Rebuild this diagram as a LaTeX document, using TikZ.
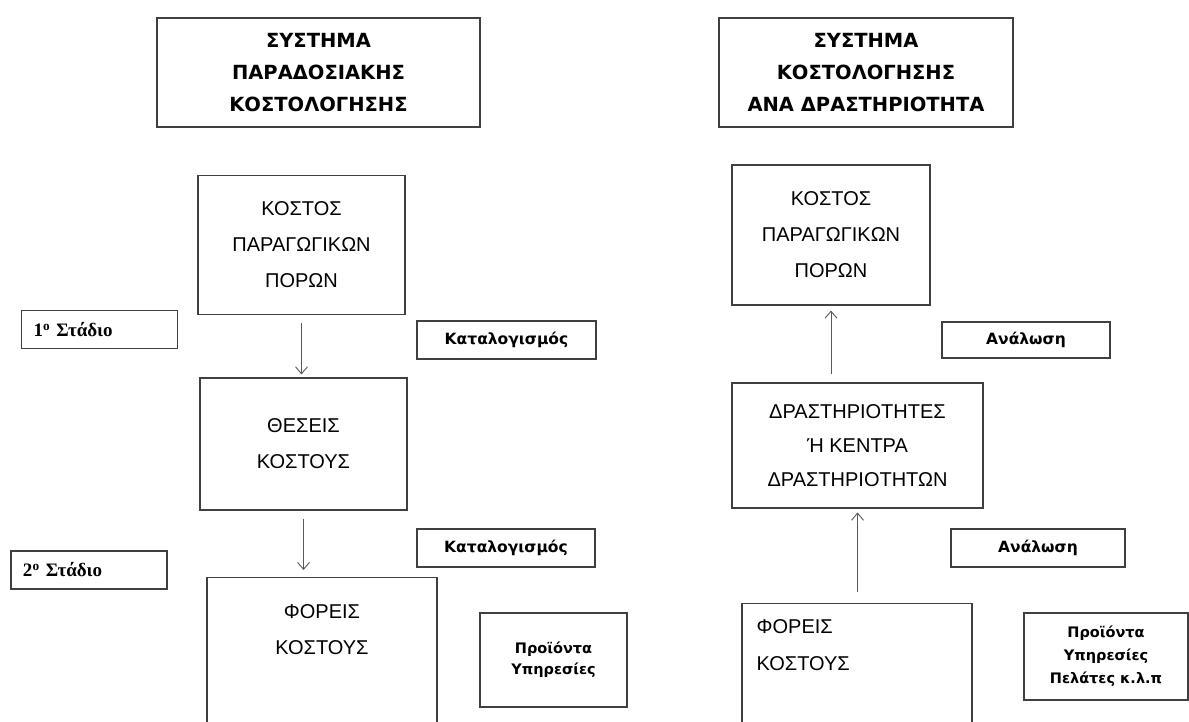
\documentclass[tikz,border=0pt]{standalone}
\usepackage{fontspec}
\setmainfont{Liberation Sans}
\newfontfamily\stadiofont{Liberation Serif}
\newfontfamily\heavyfont{DejaVu Sans}
\usepackage{tikz}
\usetikzlibrary{arrows.meta}

\begin{document}
\begin{tikzpicture}[x=1pt, y=-1pt,
    box/.style={draw=black!75, line width=1.1pt, rectangle, inner sep=0pt},
    headbox/.style={box, font=\fontsize{19.5}{32}\heavyfont\bfseries, align=center},
    mainbox/.style={box, font=\fontsize{20}{36}\selectfont, align=center},
    tagbox/.style={box, font=\fontsize{15.5}{21}\heavyfont\bfseries, align=center},
    stagebox/.style={box, font=\fontsize{19}{20}\stadiofont\bfseries, align=left,
        inner xsep=12pt, text width=132pt, minimum height=38pt},
    flow/.style={-{Straight Barb[length=7pt,width=12pt]}, draw=black!65, line width=0.9pt}]
    \useasboundingbox (0,0) rectangle (1189,722);
    \clip (0,0) rectangle (1189,722);

    % Headers
    \node[headbox, minimum width=323pt, minimum height=109pt] (headL) at (318.5,72.5) {ΣΥΣΤΗΜΑ\\ΠΑΡΑΔΟΣΙΑΚΗΣ\\ΚΟΣΤΟΛΟΓΗΣΗΣ};
    \node[headbox, minimum width=294pt, minimum height=109pt] (headR) at (866,72.5) {ΣΥΣΤΗΜΑ\\ΚΟΣΤΟΛΟΓΗΣΗΣ\\ΑΝΑ ΔΡΑΣΤΗΡΙΟΤΗΤΑ};

    % Traditional costing
    \node[mainbox, minimum width=207pt, minimum height=139pt] (poroiL) at (301.5,245) {ΚΟΣΤΟΣ\\ΠΑΡΑΓΩΓΙΚΩΝ\\ΠΟΡΩΝ};
    \node[mainbox, minimum width=207pt, minimum height=132pt] (theseis) at (303.5,444) {ΘΕΣΕΙΣ\\ΚΟΣΤΟΥΣ};
    \node[box, minimum width=230pt, minimum height=180pt, anchor=north,
        label={[font=\fontsize{20}{36}\selectfont, align=center, anchor=north, inner sep=0pt, yshift=-27pt]north:{ΦΟΡΕΙΣ\\ΚΟΣΤΟΥΣ}}] (foreisL) at (322,577) {};

    \node[stagebox] (stadio1) at (99.5,329.5) {1\textsuperscript{ο} Στάδιο};
    \node[stagebox] (stadio2) at (89,570) {2\textsuperscript{ο} Στάδιο};
    \node[tagbox, minimum width=179pt, minimum height=38pt] (katal1) at (506.5,340) {Καταλογισμός};
    \node[tagbox, minimum width=178pt, minimum height=38pt] (katal2) at (506,548) {Καταλογισμός};
    \node[tagbox, minimum width=147pt, minimum height=94pt, font=\fontsize{14.5}{21}\heavyfont\bfseries] (proiontaL) at (553.5,660) {Προϊόντα\\Υπηρεσίες};

    % Activity based costing
    \node[mainbox, minimum width=198pt, minimum height=140pt] (poroiR) at (831,235) {ΚΟΣΤΟΣ\\ΠΑΡΑΓΩΓΙΚΩΝ\\ΠΟΡΩΝ};
    \node[mainbox, minimum width=251pt, minimum height=125pt, font=\fontsize{20}{34}\selectfont] (drast) at (857.5,445.5) {ΔΡΑΣΤΗΡΙΟΤΗΤΕΣ\\Ή ΚΕΝΤΡΑ\\ΔΡΑΣΤΗΡΙΟΤΗΤΩΝ};
    \node[box, minimum width=230pt, minimum height=160pt, anchor=north,
        label={[font=\fontsize{20}{37}\selectfont, align=left, anchor=north west, inner sep=0pt, xshift=15pt, yshift=-16pt]north west:{ΦΟΡΕΙΣ\\ΚΟΣΤΟΥΣ}}] (foreisR) at (857,603) {};

    \node[tagbox, minimum width=168pt, minimum height=36pt] (analosi1) at (1026,340) {Ανάλωση};
    \node[tagbox, minimum width=174pt, minimum height=38pt] (analosi2) at (1038,548) {Ανάλωση};
    \node[tagbox, minimum width=164pt, minimum height=87pt, font=\fontsize{14.5}{23}\heavyfont\bfseries] (proiontaR) at (1106,656.5) {Προϊόντα\\Υπηρεσίες\\Πελάτες κ.λ.π};

    % Connections
    \draw[flow, shorten <=8pt, shorten >=3pt] (poroiL.south) -- (poroiL.south |- theseis.north);
    \draw[flow, shorten <=8pt, shorten >=7pt] (theseis.south) -- (theseis.south |- foreisL.north);
    \draw[flow, shorten <=8pt, shorten >=5pt] (poroiR.south |- drast.north) -- (poroiR.south);
    \draw[flow, shorten <=11pt, shorten >=4pt] (drast.south |- foreisR.north) -- (drast.south);
\end{tikzpicture}
\end{document}
